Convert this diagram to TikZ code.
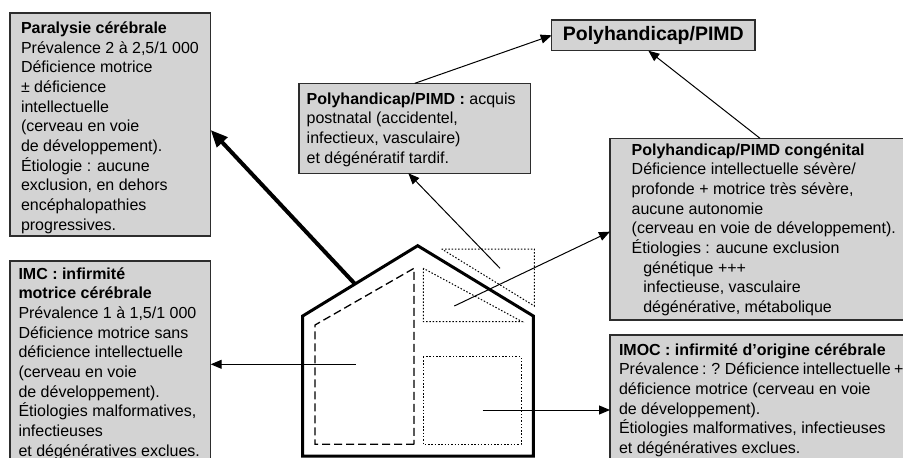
\documentclass[tikz,border=0pt]{standalone}
\usepackage{fontspec}
\setmainfont{Liberation Sans}
\usetikzlibrary{arrows.meta}
\definecolor{boxgray}{RGB}{211,211,211}
\definecolor{edgecol}{RGB}{45,45,45}
\tikzset{
  box/.style={draw=edgecol, line width=1.2pt, fill=boxgray, rectangle, inner sep=0pt, outer sep=0pt, anchor=north west},
  txt/.style={anchor=base west, inner sep=0pt, outer sep=0pt},
  thinarrow/.style={line width=1pt, -{Triangle[length=11pt,width=9pt]}},
  thickarrow/.style={line width=4pt, -{Triangle[length=17pt,width=14pt]}},
  wall/.style={line width=3pt, line join=miter},
  dashline/.style={dash pattern=on 8pt off 4pt, line width=1.3pt},
  dotline/.style={dash pattern=on 1.5pt off 1.8pt, line width=1pt},
}
\newcommand{\bodytxt}[2]{\parbox[t]{#1}{\fontsize{16}{19.7}\selectfont\raggedright #2}}
\begin{document}
\begin{tikzpicture}[x=1pt,y=-1pt]
\clip (0,0) rectangle (903,458);
% boxes
\node[box, minimum width=200.7pt, minimum height=223pt] (par) at (10,13) {};
\node[box, minimum width=200.7pt, minimum height=215pt] (imc) at (10,261) {};
\node[box, minimum width=231.7pt, minimum height=90pt] (acq) at (299,83.3) {};
\node[box, minimum width=203.3pt, minimum height=30.7pt] (top) at (551.7,20) {};
\node[box, minimum width=305pt, minimum height=181.7pt] (cong) at (610,138.3) {};
\node[box, minimum width=305pt, minimum height=135pt] (imoc) at (610,335) {};
% texts
\node[txt] (par-t) at (21,33.3) {\bodytxt{188pt}{\textbf{Paralysie cérébrale}\\
Prévalence 2 à 2,5/1 000\\
Déficience motrice\\
± déficience\\
intellectuelle\\
(cerveau en voie\\
de développement).\\
Étiologie : aucune\\
exclusion, en dehors\\
encéphalopathies\\
progressives.}};
\node[txt] (imc-t) at (18.5,279) {\bodytxt{190pt}{\textbf{IMC : infirmité}\\
\textbf{motrice cérébrale}\\
Prévalence 1 à 1,5/1 000\\
Déficience motrice sans\\
déficience intellectuelle\\
(cerveau en voie\\
de développement).\\
Étiologies malformatives,\\
infectieuses\\
et dégénératives exclues.}};
\node[txt] (acq-t) at (306.7,104) {\bodytxt{222pt}{\textbf{Polyhandicap/PIMD :} acquis\\
postnatal (accidentel,\\
infectieux, vasculaire)\\
et dégénératif tardif.}};
\node[anchor=base, inner sep=0pt] (top-t) at (653.3,40.5) {\fontsize{19.5}{22}\selectfont\textbf{Polyhandicap/PIMD}};
\node[txt] (cong-t) at (631.7,155) {\bodytxt{280pt}{\textbf{Polyhandicap/PIMD congénital}\\
Déficience intellectuelle sévère/\\
profonde + motrice très sévère,\\
aucune autonomie\\
(cerveau en voie de développement).\\
Étiologies : aucune exclusion\\
\hspace*{11.6pt}génétique +++\\
\hspace*{11.6pt}infectieuse, vasculaire\\
\hspace*{11.6pt}dégénérative, métabolique}};
\node[txt] (imoc-t) at (619,355) {\bodytxt{320pt}{\textbf{IMOC : infirmité d’origine cérébrale}\\
{\spaceskip=3.2pt Prévalence : ? Déficience intellectuelle +}\\
déficience motrice (cerveau en voie\\
de développement).\\
Étiologies malformatives, infectieuses\\
et dégénératives exclues.}};
% house
\draw[wall] (302.7,456) -- (302.7,316) -- (417.7,245.7) -- (533.3,316) -- (533.3,456) -- cycle;
\draw[dashline] (414,444.3) -- (315,444.3) -- (315,325) -- (414,268.3) -- cycle;
\draw[dotline] (423.3,268.3) -- (423.3,321.7) -- (522.3,321.7) -- cycle;
\draw[dotline] (441.7,249) -- (534.3,249) -- (534.3,306) -- cycle;
\draw[dotline] (423.3,356.7) rectangle (521,444.3);
% source points
\coordinate (sPar) at (355,284);
\coordinate (sAcq) at (500,268.3);
\coordinate (sCong) at (454.3,306);
\coordinate (sImc) at (355.7,364.3);
\coordinate (sImoc) at (482.7,410);
% connectors
\draw[thickarrow] (sPar) -- ([yshift=-117pt]par.north east);
\draw[thinarrow] (sAcq) -- ([xshift=-6.5pt]acq.south);
\draw[thinarrow] (acq.north) -- (top.west);
\draw[thinarrow] ([xshift=150pt]cong.north west) -- ([xshift=-5pt]top.south);
\draw[thinarrow] (sCong) -- ([yshift=-2.5pt]cong.west);
\draw[thinarrow] (sImc) -- (imc.east |- sImc);
\draw[thinarrow] (sImoc) -- (imoc.west |- sImoc);
\end{tikzpicture}
\end{document}
